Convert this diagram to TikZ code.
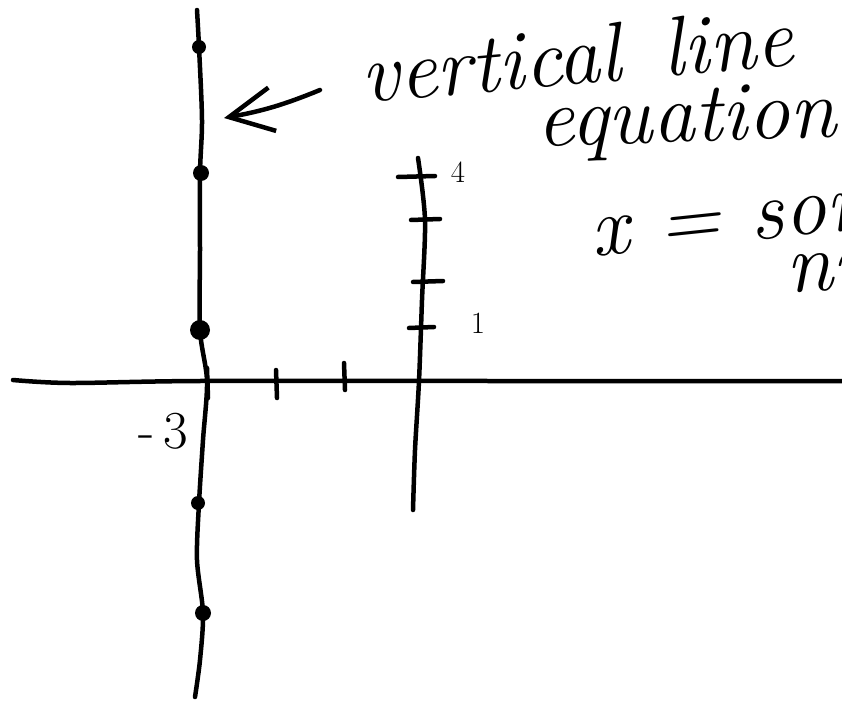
\documentclass[tikz,border=0pt]{standalone}
\usepackage{tikz}
\usetikzlibrary{arrows.meta, positioning, calc}

\begin{document}
\begin{tikzpicture}[x=0.025cm, y=-0.025cm, >={Straight Barb[length=11mm, width=11mm]},
    pen/.style={line width=3.2pt, line cap=round, line join=round},
    note/.style={font=\fontsize{60}{64}\selectfont\itshape, inner sep=0pt, anchor=base west},
    ticklabel/.style={font=\fontsize{22}{24}\selectfont, inner sep=0pt}]
  \useasboundingbox (0,0) rectangle (842,702);
  \clip (0,0) rectangle (842,702);
  \fill[white] (0,0) rectangle (842,702);

  % axes
  \draw[pen] plot[smooth] coordinates {(13,380) (70,383) (200,381) (500,381) (842,381)};
  \draw[pen] plot[smooth] coordinates {(418,158) (425,220) (422,300) (419,381) (415,450) (413,510)};
  \foreach \x/\a/\b in {207/368/398, 276/370/398, 344/363/390} {
    \draw[pen] (\x, \a) -- (\x+1, \b);
  }
  \foreach \y/\a/\b in {177/398/435, 220/411/440, 282/413/443, 328/409/434} {
    \draw[pen] (\a, \y) -- (\b, \y-1);
  }
  \node[ticklabel] (lblFour) at (458,172) {4};
  \node[ticklabel] (lblOne) at (478,323) {1};
  \node[ticklabel, font=\fontsize{38}{40}\selectfont] (lblMinusThree) at (163,431) {-\,3};

  % the line x = -3
  \draw[pen] plot[smooth] coordinates {(197,10) (199,47) (202,120) (200,173) (200,250)
    (200,330) (207,381) (203,440) (199,503) (197,560) (203,613) (200,660) (195,697)};
  \foreach \x/\y/\r in {199/47/7, 201/173/8, 200/330/10, 198/503/7, 203/613/8} {
    \fill (\x, \y) circle (\r);
  }

  % note
  \node[note, rotate=5] (txtLine) at (363,103) {vertical\hspace{0.5em}line};
  \node[note, rotate=2] (txtEq) at (537,147) {equation};
  \node[note, rotate=6] (txtX) at (593,257) {x = some};
  \node[note, rotate=3] (txtNum) at (787,293) {number};
  \coordinate (tail) at (320,90);
  \coordinate (hit) at (224,118);
  \draw[pen, ->] (tail) to[bend left=6] (hit);
\end{tikzpicture}
\end{document}
